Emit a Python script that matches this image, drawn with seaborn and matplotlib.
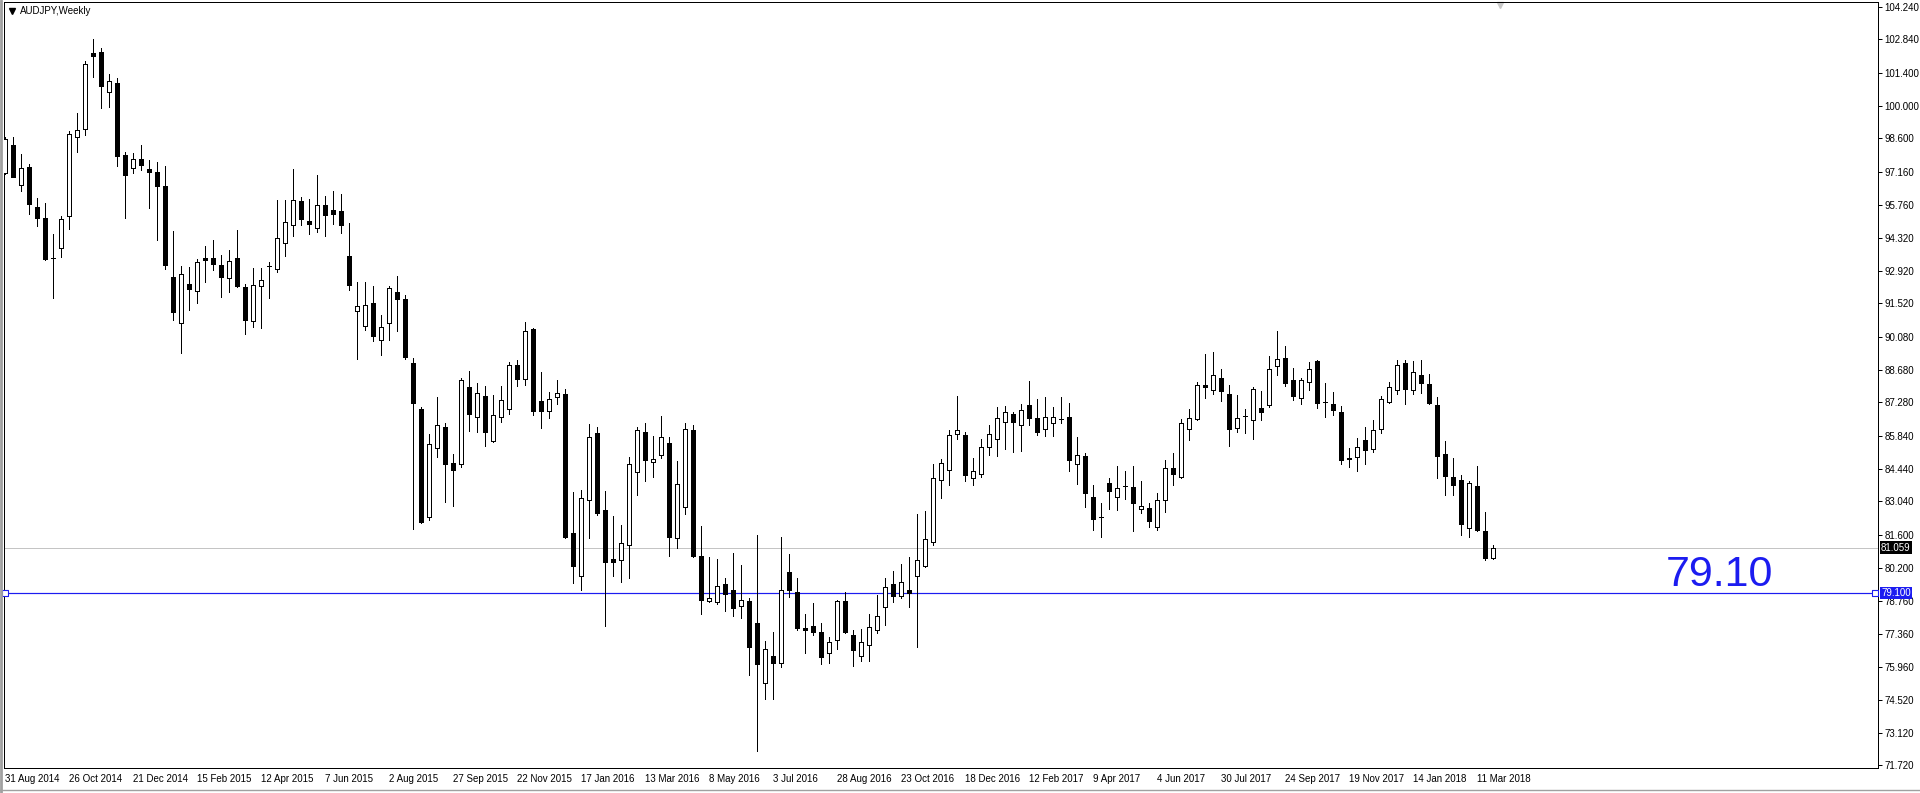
"""
AUDJPY weekly candles, MT4 style, with the 79.10 level
"""
import matplotlib.pyplot as plt
import matplotlib.transforms as mtransforms
import seaborn as sns
import pandas as pd
import numpy as np

# weekly OHLC, first bar = week of 31 Aug 2014
opens = [97.13, 98.30, 96.59, 97.37, 95.64, 95.17, 93.46, 93.89, 95.26, 98.64,
         98.99, 102.24, 102.29, 100.57, 100.97, 97.87, 97.32, 97.70, 97.27, 97.14,
         96.56, 92.65, 90.67, 92.36, 92.05, 93.46, 93.46, 93.16, 92.60, 93.46,
         92.23, 90.76, 92.27, 93.12, 92.99, 94.10, 94.87, 95.90, 95.04, 94.74,
         95.73, 95.51, 95.47, 93.54, 91.19, 90.54, 91.53, 89.94, 90.67, 92.01,
         91.70, 88.96, 87.00, 82.36, 85.32, 86.23, 84.67, 84.66, 87.93, 86.64,
         87.56, 85.62, 86.64, 86.99, 88.87, 88.30, 90.41, 87.33, 86.90, 87.53,
         87.63, 81.67, 79.83, 83.09, 85.96, 82.67, 80.57, 80.52, 81.16, 84.29,
         86.02, 84.72, 85.02, 85.53, 81.46, 82.79, 86.09, 80.69, 78.76, 78.72,
         79.49, 79.23, 78.55, 78.76, 77.82, 75.25, 76.41, 76.11, 80.00, 79.15,
         77.62, 77.69, 77.43, 76.53, 77.09, 78.76, 77.31, 76.41, 76.88, 77.52,
         78.51, 79.49, 78.98, 79.23, 79.83, 80.26, 81.29, 83.95, 84.38, 85.92,
         85.87, 84.02, 84.23, 85.36, 85.70, 86.43, 86.77, 86.30, 87.16, 86.60,
         86.13, 86.39, 86.56, 86.65, 84.66, 84.97, 83.22, 82.36, 83.82, 83.22,
         83.69, 83.65, 82.73, 82.75, 81.96, 83.08, 84.46, 84.08, 86.13, 86.56,
         88.02, 87.83, 88.32, 87.63, 86.17, 86.70, 86.52, 87.03, 87.15, 88.83,
         89.17, 88.23, 87.45, 88.15, 89.05, 87.30, 87.20, 86.86, 84.90, 84.93,
         85.66, 85.27, 86.13, 87.29, 87.83, 88.96, 87.79, 88.45, 88.06, 87.16,
         85.06, 84.09, 83.95, 81.89, 83.70, 81.76, 80.60]
highs = [98.64, 98.66, 97.93, 97.50, 96.04, 95.83, 94.50, 95.27, 98.92, 99.69,
         101.91, 102.86, 102.47, 101.36, 101.19, 98.02, 97.97, 98.32, 97.67, 97.59,
         97.42, 94.63, 93.13, 93.09, 93.43, 93.99, 94.24, 93.60, 93.82, 94.67,
         92.36, 93.05, 93.05, 93.29, 95.96, 95.96, 97.29, 96.09, 96.00, 97.03,
         96.13, 96.34, 96.21, 94.97, 92.44, 92.44, 92.27, 91.03, 92.27, 92.70,
         91.89, 89.17, 87.09, 85.92, 87.52, 86.40, 85.07, 88.32, 88.63, 88.12,
         87.99, 87.60, 87.99, 89.03, 89.10, 90.73, 90.46, 88.59, 87.73, 88.22,
         87.86, 83.42, 83.53, 86.34, 86.24, 83.49, 82.42, 82.03, 84.93, 86.24,
         86.39, 85.83, 86.70, 85.79, 84.78, 86.40, 86.30, 81.99, 80.65, 80.58,
         79.76, 80.83, 80.32, 78.89, 81.60, 77.06, 77.45, 81.52, 80.79, 79.76,
         78.22, 78.69, 77.83, 77.23, 78.80, 79.16, 77.51, 77.58, 78.22, 79.03,
         79.76, 80.06, 80.36, 80.66, 82.50, 82.63, 84.65, 84.86, 86.10, 87.56,
         86.02, 84.90, 85.72, 86.30, 87.09, 87.13, 86.86, 87.22, 88.20, 87.43,
         87.52, 87.09, 87.52, 87.26, 85.80, 85.12, 83.75, 82.98, 84.05, 84.56,
         84.35, 84.56, 83.92, 82.98, 83.40, 84.82, 85.12, 86.57, 87.00, 88.16,
         89.36, 89.43, 88.72, 88.03, 87.60, 87.00, 87.92, 87.77, 89.27, 90.35,
         89.70, 88.76, 88.33, 89.02, 89.09, 88.12, 87.73, 87.12, 85.33, 85.76,
         86.23, 86.53, 87.56, 88.16, 89.09, 89.09, 89.05, 89.09, 88.50, 87.50,
         85.63, 84.90, 84.18, 83.90, 84.56, 82.58, 81.16]
lows = [97.07, 96.92, 96.36, 95.34, 94.86, 93.40, 91.75, 93.53, 94.73, 98.03,
        98.76, 101.24, 99.91, 99.96, 97.43, 95.20, 97.09, 97.26, 95.63, 94.22,
        93.00, 90.83, 89.39, 91.26, 91.56, 92.42, 92.95, 91.79, 91.99, 92.23,
        90.20, 90.49, 90.45, 91.75, 92.85, 93.57, 94.43, 94.90, 94.49, 94.60,
        94.39, 94.94, 94.56, 92.09, 89.12, 90.39, 89.89, 89.33, 89.96, 90.36,
        89.16, 81.87, 82.09, 82.25, 84.92, 82.99, 82.82, 84.49, 86.06, 85.99,
        85.39, 85.60, 86.46, 86.80, 88.00, 88.03, 86.74, 86.20, 86.63, 87.19,
        81.46, 79.56, 79.22, 81.45, 82.47, 77.70, 79.82, 79.60, 79.77, 83.33,
        83.89, 84.10, 84.89, 80.68, 81.06, 82.49, 80.66, 78.19, 78.74, 78.62,
        78.32, 78.11, 78.02, 75.58, 72.36, 74.55, 74.55, 75.92, 78.92, 77.51,
        76.52, 77.33, 76.05, 76.09, 76.69, 77.40, 75.98, 76.18, 76.18, 77.38,
        77.76, 78.72, 78.91, 78.49, 76.78, 80.24, 81.16, 83.20, 83.76, 85.72,
        83.93, 83.72, 84.10, 85.03, 84.99, 85.29, 85.16, 85.20, 86.29, 85.90,
        85.85, 85.85, 86.39, 84.35, 83.80, 82.78, 81.82, 81.49, 82.73, 82.68,
        83.15, 81.75, 82.52, 81.92, 81.79, 82.60, 83.72, 84.06, 85.65, 86.54,
        87.47, 87.66, 87.36, 85.43, 85.99, 85.95, 85.69, 86.53, 87.07, 88.47,
        88.00, 87.39, 87.23, 87.79, 87.02, 86.67, 86.76, 84.62, 84.49, 84.36,
        84.66, 85.17, 85.95, 87.27, 87.62, 87.19, 87.66, 87.70, 87.23, 84.02,
        83.33, 83.30, 81.58, 81.49, 81.75, 80.52, 80.55]
closes = [98.57, 96.96, 97.32, 95.77, 95.17, 93.43, 93.46, 95.13, 98.77, 98.94,
          101.79, 102.14, 100.86, 101.04, 97.86, 97.04, 97.70, 97.47, 97.17, 96.57,
          93.15, 91.17, 92.77, 92.12, 93.29, 93.40, 93.19, 92.67, 93.35, 92.27,
          90.83, 92.30, 92.52, 93.12, 94.32, 95.00, 95.94, 95.16, 94.94, 95.73,
          95.29, 95.34, 94.90, 92.29, 91.40, 91.44, 90.14, 90.50, 92.19, 91.73,
          89.24, 87.27, 82.17, 85.49, 86.30, 84.66, 84.40, 88.24, 86.80, 87.67,
          86.03, 86.73, 87.39, 88.87, 88.30, 90.33, 86.93, 86.93, 87.42, 87.67,
          81.53, 80.25, 83.17, 85.80, 82.52, 80.46, 80.46, 81.25, 84.63, 86.09,
          84.80, 84.87, 85.79, 81.50, 83.78, 86.13, 80.69, 78.83, 78.89, 79.41,
          79.06, 78.45, 78.81, 76.78, 76.05, 76.71, 76.09, 79.23, 79.26, 77.59,
          77.52, 77.46, 76.35, 77.01, 78.76, 77.42, 76.65, 77.01, 77.65, 78.12,
          79.36, 78.98, 79.58, 79.11, 80.52, 81.42, 84.03, 84.67, 85.88, 86.09,
          84.15, 84.33, 85.36, 85.92, 86.60, 86.86, 86.42, 86.95, 86.59, 85.99,
          86.65, 86.65, 86.56, 84.83, 85.02, 83.38, 82.30, 82.36, 83.50, 83.60,
          83.69, 82.95, 82.86, 82.18, 83.09, 84.46, 84.23, 86.39, 86.60, 88.02,
          87.92, 88.45, 87.75, 86.16, 86.60, 86.70, 87.85, 86.85, 88.70, 89.13,
          88.13, 87.57, 88.23, 88.70, 87.27, 87.30, 86.95, 84.83, 84.85, 85.36,
          85.23, 86.09, 87.42, 87.93, 88.87, 87.87, 88.57, 88.10, 87.27, 85.00,
          84.12, 83.73, 82.05, 83.82, 81.79, 80.63, 81.06]

date_labels = ['31 Aug 2014', '26 Oct 2014', '21 Dec 2014', '15 Feb 2015', '12 Apr 2015',
               '7 Jun 2015', '2 Aug 2015', '27 Sep 2015', '22 Nov 2015', '17 Jan 2016',
               '13 Mar 2016', '8 May 2016', '3 Jul 2016', '28 Aug 2016', '23 Oct 2016',
               '18 Dec 2016', '12 Feb 2017', '9 Apr 2017', '4 Jun 2017', '30 Jul 2017',
               '24 Sep 2017', '19 Nov 2017', '14 Jan 2018', '11 Mar 2018']
price_ticks = [104.24, 102.84, 101.40, 100.00, 98.60, 97.16, 95.76, 94.32, 92.92,
               91.52, 90.08, 88.68, 87.28, 85.84, 84.44, 83.04, 81.60, 80.20, 78.76,
               77.36, 75.96, 74.52, 73.12, 71.72]
bid_price = 81.059
level_price = 79.10
level_label = '79.10'

sns.set_theme(style="white")
plt.rcParams['font.family'] = ['Liberation Sans', 'DejaVu Sans']

df = pd.DataFrame({'open': opens, 'high': highs, 'low': lows, 'close': closes})
df['x'] = np.arange(len(df))
df['bull'] = df['close'] >= df['open']
df['body_lo'] = df[['open', 'close']].min(axis=1)
df['body_h'] = (df['close'] - df['open']).abs().clip(lower=0.015)

W, H = 1920, 793
fig = plt.figure(figsize=(W / 100, H / 100), dpi=100)
fig.patch.set_facecolor('white')
# plot frame: left 4px, right 1878px, top 2px, bottom 768px
ax = fig.add_axes([4 / W, (H - 768) / H, 1874 / W, 766 / H])
ax.set_facecolor('white')

px = 0.72  # one pixel in points
blue = '#1c1cf0'

# wicks, then bodies on top
ax.vlines(df['x'], df['low'], df['high'], color='black', linewidth=px,
          antialiased=False, zorder=2)
ax.bar(df['x'], df['body_h'], bottom=df['body_lo'], width=0.5,
       color=np.where(df['bull'], 'white', 'black'), edgecolor='black',
       linewidth=px, antialiased=False, zorder=3)

# bid line and the 79.10 level
ax.axhline(bid_price, color='#c4c4c4', linewidth=px, zorder=1)
ax.axhline(level_price, color=blue, linewidth=px * 1.2, zorder=1)
blend = mtransforms.blended_transform_factory(ax.transAxes, ax.transData)
sns.scatterplot(x=[0.0006, 0.9985], y=[level_price, level_price], marker='s', s=14,
                facecolor='white', edgecolor=blue, linewidth=0.8,
                transform=blend, ax=ax, zorder=4, clip_on=False, legend=False)
ax.text(207.6, level_price + 0.32, level_label, color=blue, fontsize=31,
        ha='left', va='baseline', zorder=5)

# price tags on the right scale
ax.text(1.0 + 3 / 1874, bid_price, f'{bid_price:.3f}', transform=blend, color='white',
        fontsize=7, ha='left', va='center', zorder=6, clip_on=False,
        bbox=dict(facecolor='black', edgecolor='none', pad=0.8))
ax.text(1.0 + 3 / 1874, level_price, f'{level_price:.3f}', transform=blend, color='white',
        fontsize=7, ha='left', va='center', zorder=6, clip_on=False,
        bbox=dict(facecolor=blue, edgecolor='none', pad=0.8))

# axes
ax.set_xlim((4 - 5.33) / 8, (1878 - 5.33) / 8)
ax.set_ylim(71.61, 104.44)
ax.yaxis.tick_right()
ax.set_yticks(price_ticks)
ax.set_yticklabels([f'{p:.3f}' for p in price_ticks])
ax.set_xticks(np.arange(len(date_labels)) * 8)
ax.set_xticklabels(date_labels, ha='left')
ax.tick_params(axis='both', which='both', direction='out', length=3, width=px,
               color='black', labelsize=7, labelcolor='black', pad=1.5)
ax.tick_params(axis='x', pad=1)
for s in ax.spines.values():
    s.set_visible(True)
    s.set_color('black')
    s.set_linewidth(px)
ax.grid(False)

# chart caption and shift marker
ax.plot([(12 - 4) / 1874], [1 - 9 / 766], marker='v', markersize=4, color='black',
        transform=ax.transAxes, clip_on=False)
fig.text(20 / W, 1 - 11 / H, 'AUDJPY,Weekly', fontsize=7, color='black',
         ha='left', va='center')
ax.plot([(1500 - 4) / 1874], [1 - 3 / 766], marker='v', markersize=4, color='#c8c8c8',
        transform=ax.transAxes, clip_on=False)

# window edges
fig.add_artist(plt.Line2D([1 / W, 1 / W], [0, 1], color='#a0a0a0', linewidth=2))
fig.add_artist(plt.Line2D([0, 1], [3 / H, 3 / H], color='#a0a0a0', linewidth=1))

plt.savefig('out.png', dpi=100, facecolor='white')
plt.close()
